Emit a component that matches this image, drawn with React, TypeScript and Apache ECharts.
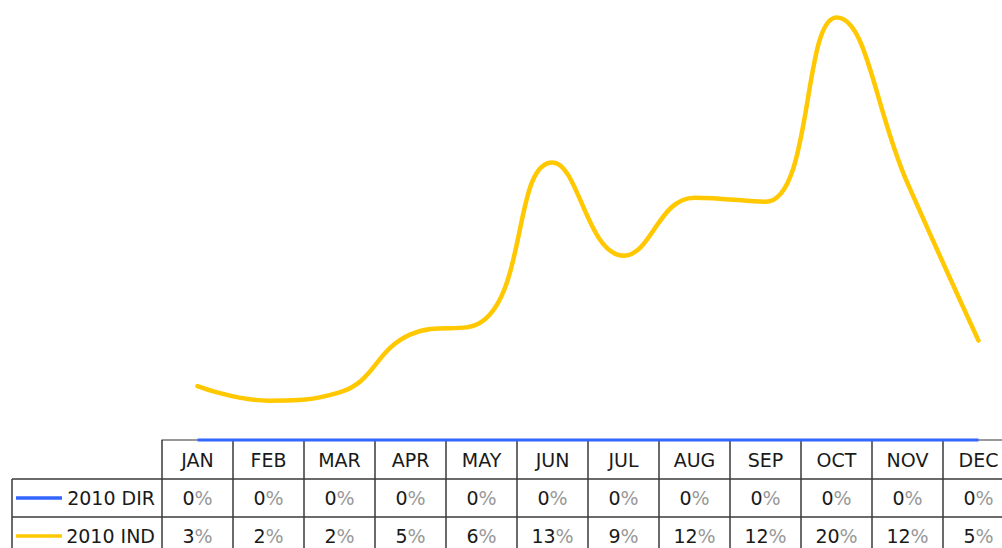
import React, { useEffect, useRef } from "react";
import * as echarts from "echarts";

const months = ["JAN", "FEB", "MAR", "APR", "MAY", "JUN", "JUL", "AUG", "SEP", "OCT", "NOV", "DEC"];
const dirValues = [0, 0, 0, 0, 0, 0, 0, 0, 0, 0, 0, 0];
const indValues = [2.6, 1.9, 2.3, 5.1, 5.7, 13.4, 8.9, 11.7, 11.5, 20.4, 12.4, 4.8];
const seriesNames = ["2010 DIR", "2010 IND"];
const seriesColors = ["#3366FF", "#FFC800"];

const FONT = "DejaVu Sans";
const FS = 19;
const GRID_LEFT = 162;
const GRID_BOTTOM = 108;
const H = 548;
const W = 1002;
const CHART_W = 1014;
const AXIS_Y = H - GRID_BOTTOM;
const ROW1 = 479;
const ROW2 = 517;
const LEG_LEFT = 12;
const BORDER = "#3a3a3a";

const pctRich = {
  n: { color: "#1a1a1a", fontFamily: FONT, fontSize: FS },
  p: { color: "#999", fontFamily: FONT, fontSize: FS },
};

export default function App() {
  const ref = useRef<HTMLDivElement>(null);
  useEffect(() => {
    if (!ref.current) return;
    const chart = echarts.init(ref.current, undefined, { renderer: "svg" });
    const rowVals = [dirValues, indValues];
    const option: any = {
      animation: false,
      backgroundColor: "#fff",
      grid: { left: GRID_LEFT, right: 0, top: 5, bottom: GRID_BOTTOM },
      xAxis: [
        {
          type: "category",
          data: months,
          boundaryGap: true,
          axisLine: { show: true, lineStyle: { color: "#777", width: 1.5 } },
          axisTick: { show: true, interval: 0, length: GRID_BOTTOM, lineStyle: { color: BORDER, width: 1.5 } },
          axisLabel: {
            interval: 0,
            margin: (ROW1 - AXIS_Y) / 2,
            verticalAlign: "middle",
            color: "#1a1a1a",
            fontFamily: FONT,
            fontSize: FS,
          },
        },
        ...rowVals.map((vals, r) => ({
          type: "category",
          data: months,
          boundaryGap: true,
          position: "bottom",
          axisLine: { show: false },
          axisTick: { show: false },
          axisLabel: {
            interval: 0,
            margin: r === 0 ? (ROW1 + ROW2) / 2 - AXIS_Y : ROW2 + 19 - AXIS_Y,
            verticalAlign: "middle",
            formatter: (_v: string, i: number) => `{n|${Math.round(vals[i])}}{p|%}`,
            rich: pctRich,
          },
        })),
      ],
      yAxis: {
        type: "value",
        min: 0,
        max: 21,
        show: false,
        splitLine: { show: false },
      },
      series: [
        {
          name: seriesNames[0],
          type: "line",
          data: dirValues,
          smooth: 0.4,
          symbol: "none",
          clip: false,
          z: 3,
          lineStyle: { color: seriesColors[0], width: 3 },
        },
        {
          name: seriesNames[1],
          type: "line",
          data: indValues,
          smooth: 0.45,
          symbol: "none",
          clip: false,
          z: 4,
          lineStyle: { color: seriesColors[1], width: 4.5, cap: "round" },
        },
      ],
      graphic: [
        { type: "line", shape: { x1: LEG_LEFT, y1: ROW1, x2: CHART_W, y2: ROW1 }, style: { stroke: BORDER, lineWidth: 1.5 } },
        { type: "line", shape: { x1: LEG_LEFT, y1: ROW2, x2: CHART_W, y2: ROW2 }, style: { stroke: BORDER, lineWidth: 1.5 } },
        { type: "line", shape: { x1: LEG_LEFT, y1: ROW1, x2: LEG_LEFT, y2: H }, style: { stroke: BORDER, lineWidth: 1.5 } },
        ...seriesNames.flatMap((name, r) => {
          const cy = r === 0 ? (ROW1 + ROW2) / 2 : ROW2 + 19;
          return [
            { type: "line", shape: { x1: 16, y1: cy, x2: 62, y2: cy }, style: { stroke: seriesColors[r], lineWidth: 3.5 } },
            {
              type: "text",
              x: 155,
              y: cy,
              style: { text: name, fill: "#1a1a1a", font: `${FS}px "${FONT}"`, textAlign: "right", textVerticalAlign: "middle" },
            },
          ];
        }),
      ],
    };
    chart.setOption(option);
    return () => chart.dispose();
  }, []);
  return (
    <div style={{ position: "fixed", left: 0, top: 0, width: W, height: H, overflow: "hidden", background: "#fff" }}>
      <div ref={ref} style={{ position: "absolute", left: 0, top: 0, width: CHART_W, height: H }} />
    </div>
  );
}
